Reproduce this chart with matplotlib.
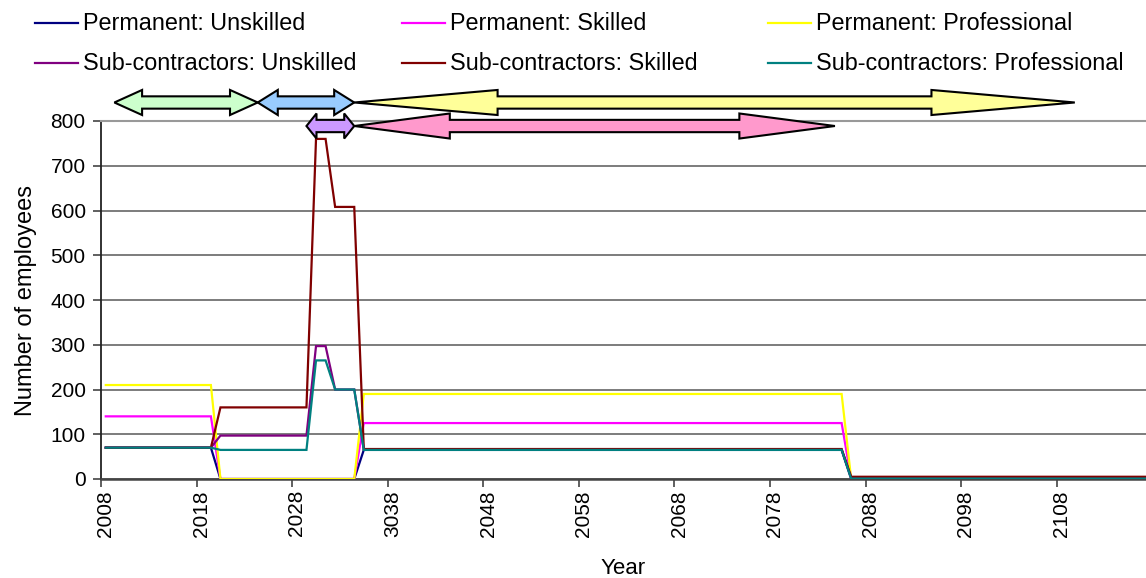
import matplotlib
matplotlib.use('Agg')

import matplotlib.pyplot as plt
import matplotlib.transforms as mtransforms
from matplotlib.lines import Line2D
from matplotlib.patches import Polygon
import numpy as np

plt.rcParams['font.family'] = ['Liberation Sans', 'DejaVu Sans']

# one value per year, 2008 .. 2117
years = np.arange(2008, 2118)
n = len(years)


def steps(*runs):
    # runs of (value, count) -> flat list
    out = []
    for v, c in runs:
        out += [v] * c
    return out


perm_unskilled = steps((70, 12), (0, 15), (65, 51), (0, 32))
perm_skilled = steps((140, 12), (0, 15), (125, 51), (0, 32))
perm_prof = steps((210, 12), (0, 15), (190, 51), (0, 32))
sub_unskilled = steps((70, 12), (97, 10), (297, 2), (200, 3), (66, 51), (3, 32))
sub_skilled = steps((70, 12), (160, 10), (760, 2), (608, 3), (67, 51), (5, 32))
sub_prof = steps((70, 12), (65, 10), (265, 2), (200, 3), (65, 51), (1, 32))

series = [
    ("Permanent: Unskilled", perm_unskilled, "#000080"),
    ("Permanent: Skilled", perm_skilled, "#FF00FF"),
    ("Permanent: Professional", perm_prof, "#FFFF00"),
    ("Sub-contractors: Unskilled", sub_unskilled, "#800080"),
    ("Sub-contractors: Skilled", sub_skilled, "#800000"),
    ("Sub-contractors: Professional", sub_prof, "#008080"),
]

tick_labels = ["2008", "2018", "2028", "3038", "2048", "2058", "2068",
               "2078", "2088", "2098", "2108"]

# phase arrows: colour, start year, end year, head length (years), row
phases = [
    ("#CCFFCC", 2008.9, 2023.9, 2.9, 0),
    ("#99CCFF", 2023.9, 2034.0, 2.1, 0),
    ("#FFFF99", 2034.0, 2109.4, 15.0, 0),
    ("#CC99FF", 2029.0, 2034.0, 1.05, 1),
    ("#FF99CC", 2034.0, 2084.3, 10.0, 1),
]

W, H = 1146, 578
fig = plt.figure(figsize=(W / 100, H / 100), dpi=100)
ax = fig.add_axes([101 / W, (H - 479) / H, (W - 101) / W, 358 / H])

x = np.arange(n)
for label, vals, col in series:
    ax.plot(x, vals, color=col, lw=1.6, solid_joinstyle='miter', zorder=3)

ax.set_ylim(0, 800)
ax.set_yticks(np.arange(0, 801, 100))
ax.set_xlim(-0.5, (W - 101.7) / 9.55 - 0.5)

# tick marks sit between categories, labels centred on the category
ax.set_xticks(np.arange(0, 110, 10) - 0.5)
ax.set_xticklabels([])
ax.set_xticks(np.arange(0, 110, 10), minor=True)
ax.set_xticklabels(tick_labels, minor=True, rotation=90, fontsize=15)
ax.tick_params(axis='x', which='minor', length=0, pad=8)
ax.tick_params(axis='x', which='major', length=6, width=1.2, color='#444444')
ax.tick_params(axis='y', length=6, width=1.2, color='#444444', labelsize=15, pad=5)

ax.grid(axis='y', color='#666666', lw=1.2, zorder=1)
ax.set_axisbelow(True)
ax.spines['right'].set_visible(False)
ax.spines['top'].set_color('#999999')
ax.spines['top'].set_linewidth(1.5)
ax.spines['left'].set_color('#222222')
ax.spines['left'].set_linewidth(1.3)
ax.spines['bottom'].set_color('#444444')
ax.spines['bottom'].set_linewidth(1.8)

ax.set_ylabel("Number of employees", fontsize=17, labelpad=10)
ax.set_xlabel("Year", fontsize=16, labelpad=15)

# phase arrows above the plot area
trans = mtransforms.blended_transform_factory(ax.transData, ax.transAxes)
row_y = [1.0517, 0.986]
hw, sw = 0.035, 0.0172
for col, y0, y1, hl, row in phases:
    x0, x1 = y0 - 2008, y1 - 2008
    yc = row_y[row]
    pts = [(x0, yc), (x0 + hl, yc + hw), (x0 + hl, yc + sw), (x1 - hl, yc + sw),
           (x1 - hl, yc + hw), (x1, yc), (x1 - hl, yc - hw), (x1 - hl, yc - sw),
           (x0 + hl, yc - sw), (x0 + hl, yc - hw)]
    ax.add_patch(Polygon(pts, closed=True, facecolor=col, edgecolor='black',
                         lw=1.5, transform=trans, clip_on=False, zorder=5))

# legend laid out on an even grid, 3 columns x 2 rows
col_x = [35, 402, 768]
row_yp = [23, 63]
for i, (label, vals, col) in enumerate(series):
    r, c = divmod(i, 3)
    xp, yp = col_x[c], row_yp[r]
    fig.add_artist(Line2D([xp / W, (xp + 43) / W], [1 - yp / H, 1 - yp / H],
                          color=col, lw=1.6))
    fig.text((xp + 48) / W, 1 - yp / H, label, fontsize=16.8, va='center', ha='left')

fig.savefig("out.png", dpi=100)
